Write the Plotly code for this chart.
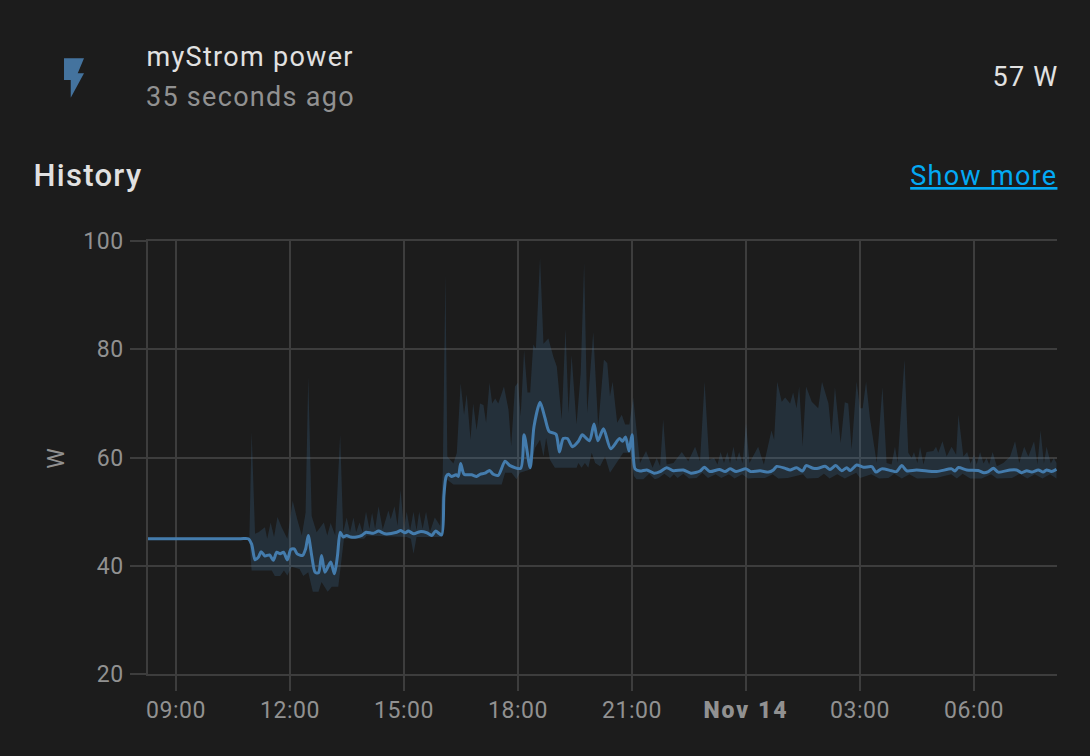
import pandas as pd
import plotly.graph_objects as go

# hours counted from midnight on Nov 13, so 24+ is Nov 14
mean_hours = [8.2, 9.5, 10.7, 10.9, 10.99, 11.08, 11.17, 11.24, 11.34, 11.46, 11.56, 11.65, 11.74, 11.83, 11.93, 12.02, 12.11, 12.19, 12.33, 12.41, 12.48, 12.57, 12.66, 12.75, 12.83, 12.92, 13.07, 13.17, 13.25, 13.32, 13.4, 13.49, 13.6, 13.75, 13.89, 14.0, 14.19, 14.33, 14.5, 14.81, 14.91, 15.03, 15.11, 15.26, 15.42, 15.6, 15.73, 15.83, 15.99, 16.05, 16.11, 16.17, 16.25, 16.37, 16.43, 16.49, 16.58, 16.78, 16.91, 17.0, 17.13, 17.25, 17.35, 17.48, 17.66, 17.79, 18.07, 18.16, 18.32, 18.42, 18.58, 18.71, 18.82, 19.0, 19.09, 19.19, 19.3, 19.43, 19.59, 19.69, 19.88, 20.0, 20.1, 20.25, 20.44, 20.67, 20.75, 20.83, 20.92, 21.0, 21.08, 21.21, 21.39, 21.58, 21.74, 21.91, 22.09, 22.35, 22.55, 22.79, 22.9, 23.05, 23.3, 23.45, 23.58, 23.74, 24.0, 24.12, 24.37, 24.59, 24.72, 24.81, 25.03, 25.16, 25.33, 25.49, 25.58, 25.77, 25.9, 26.08, 26.21, 26.36, 26.52, 26.65, 26.74, 26.91, 27.09, 27.31, 27.42, 27.57, 27.83, 27.96, 28.1, 28.23, 28.49, 29.02, 29.41, 29.5, 29.59, 29.81, 30.11, 30.26, 30.38, 30.51, 30.64, 30.95, 31.12, 31.25, 31.39, 31.52, 31.69, 31.82, 31.91, 32.04, 32.17]
mean_w = [45, 45, 45, 45, 44, 41.1, 41.6, 42.6, 41.8, 42, 41, 42.5, 42.2, 42.5, 41.1, 43, 43.1, 42.2, 41.9, 43.1, 45.6, 41.9, 38.8, 38.7, 41.9, 38.8, 40.7, 38.5, 41.9, 46.2, 45.3, 45.6, 45.3, 45.3, 45.6, 46.2, 46, 46.4, 45.9, 46.2, 46.5, 46.1, 46.4, 45.9, 46.3, 46.1, 45.6, 46.4, 45.7, 52.9, 56.5, 56.9, 56.5, 56.8, 56.5, 58.9, 56.9, 56.8, 56.5, 56.9, 57.1, 57.6, 56.9, 56.7, 59.3, 58.5, 58, 64.2, 58.1, 65.7, 70.2, 67.3, 64.8, 64.3, 61, 63.5, 63.5, 62, 63, 64.2, 63.1, 66.2, 63.1, 65.3, 61.6, 63.5, 63, 63.8, 61.2, 64.2, 57.9, 57.5, 57.7, 57.1, 57.4, 58.1, 57.55, 57.7, 57.1, 57.5, 58.2, 57.4, 57.8, 57.4, 57.9, 57.4, 57.9, 57.4, 57.55, 57.3, 57.7, 58.35, 58, 57.7, 58.1, 57.5, 58.5, 58, 58, 58.4, 57.8, 58.5, 57.55, 58.1, 57.6, 58.6, 58.2, 58.3, 57.3, 57.9, 57.55, 57.4, 58.5, 57.55, 57.7, 57.4, 57.9, 57.5, 58.15, 57.7, 57.6, 57.2, 57.4, 58, 57.3, 57.7, 57.7, 57.2, 57.55, 57.3, 57.7, 57.3, 57.7, 57.4, 57.8]

max_hours = [10.93, 10.99, 11.08, 11.17, 11.34, 11.4, 11.49, 11.58, 11.67, 11.78, 11.93, 12.07, 12.19, 12.31, 12.41, 12.48, 12.57, 12.7, 12.89, 12.98, 13.07, 13.19, 13.32, 13.4, 13.49, 13.58, 13.67, 13.74, 13.83, 13.91, 14.0, 14.09, 14.16, 14.24, 14.33, 14.44, 14.59, 14.65, 14.75, 14.83, 14.91, 15.0, 15.07, 15.16, 15.25, 15.33, 15.4, 15.49, 15.58, 15.68, 15.81, 15.95, 16.02, 16.09, 16.14, 16.3, 16.39, 16.49, 16.58, 16.65, 16.75, 16.82, 16.91, 17.0, 17.09, 17.16, 17.25, 17.32, 17.4, 17.48, 17.63, 17.75, 17.82, 17.92, 18.0, 18.07, 18.16, 18.25, 18.32, 18.4, 18.47, 18.58, 18.67, 18.8, 18.93, 19.02, 19.15, 19.25, 19.33, 19.41, 19.54, 19.65, 19.74, 19.82, 19.98, 20.11, 20.26, 20.35, 20.42, 20.49, 20.61, 20.73, 20.82, 20.93, 21.03, 21.12, 21.21, 21.37, 21.54, 21.65, 21.74, 21.82, 21.91, 22.09, 22.31, 22.48, 22.66, 22.79, 22.91, 23.03, 23.16, 23.25, 23.33, 23.42, 23.51, 23.58, 23.67, 23.74, 23.82, 23.91, 24.0, 24.09, 24.32, 24.47, 24.67, 24.74, 24.82, 24.94, 25.03, 25.16, 25.24, 25.33, 25.4, 25.49, 25.58, 25.73, 25.9, 26.0, 26.17, 26.25, 26.34, 26.49, 26.6, 26.69, 26.78, 26.91, 27.0, 27.07, 27.16, 27.26, 27.35, 27.44, 27.59, 27.7, 27.83, 27.92, 27.99, 28.17, 28.27, 28.36, 28.42, 28.51, 28.58, 28.67, 28.75, 28.93, 29.0, 29.06, 29.17, 29.28, 29.41, 29.53, 29.59, 29.72, 29.82, 29.91, 30.0, 30.07, 30.16, 30.25, 30.33, 30.4, 30.49, 30.6, 30.77, 30.95, 31.08, 31.19, 31.32, 31.43, 31.58, 31.67, 31.75, 31.84, 31.91, 32.02, 32.1, 32.17]
max_w = [45, 64.8, 45.9, 46.2, 47.1, 45, 48, 45.3, 49, 47.1, 45, 52, 48.6, 45.6, 49.8, 74.9, 49.2, 46.2, 48, 45.6, 47.9, 45.6, 64.2, 46.2, 48.9, 46.2, 48.9, 46.2, 48, 46.2, 50, 46.8, 49.8, 46.8, 51, 46.7, 50.2, 48.6, 51, 47.4, 54, 46.8, 50, 46.5, 50, 46.5, 50, 46.8, 50, 46.2, 48.9, 47.4, 57.2, 93.9, 60.2, 58.9, 60.9, 73.7, 67.9, 71.7, 63.3, 70, 65.1, 70, 69.7, 66.4, 73.8, 70, 70.9, 70, 73.1, 68.8, 62.1, 73.1, 73.8, 67.6, 79.8, 72, 72, 80.9, 80.1, 96.9, 81, 82, 78.6, 76.8, 67, 83.8, 68.2, 78.9, 66.1, 75.5, 96, 68.2, 83.2, 65.7, 78.1, 77.4, 71.3, 74, 66.4, 67.9, 66.1, 66.1, 71.1, 64.5, 59, 61.2, 58.1, 59.9, 58.4, 67, 58.7, 59, 61, 59.3, 62, 59.3, 74, 59.6, 59.9, 58.7, 61, 59, 61, 58.9, 62, 59.3, 61, 58.9, 66.4, 59, 62, 58.7, 65, 63.3, 74, 70.3, 71.1, 70, 72, 69.1, 73.1, 62.1, 73.1, 70.3, 69.1, 74, 70, 64.2, 73, 62.7, 70.2, 70, 61.5, 74, 69.1, 69.1, 74, 67.3, 63.3, 59, 73, 59, 58.7, 62, 59, 78.1, 60.9, 59.9, 61, 59, 62, 58.7, 61, 61.2, 62, 60.9, 63, 60.2, 62, 60.5, 67.9, 60.2, 61, 58.9, 60.5, 58.7, 61, 58.9, 59.9, 58.7, 61, 58.4, 59, 60.2, 63, 59, 62, 60.2, 63, 58.7, 65, 58.9, 62, 58.9, 59.9, 59]

min_hours = [10.93, 10.99, 11.52, 11.6, 11.74, 11.84, 11.93, 12.04, 12.25, 12.35, 12.48, 12.6, 12.75, 12.83, 12.99, 13.1, 13.27, 13.36, 13.42, 13.95, 14.02, 15.07, 15.18, 15.25, 15.33, 15.99, 16.03, 16.12, 16.3, 17.57, 17.66, 17.83, 17.96, 18.05, 18.32, 18.45, 18.58, 18.67, 18.74, 18.84, 18.97, 19.19, 19.54, 19.59, 19.67, 19.76, 19.85, 19.94, 20.03, 20.16, 20.29, 20.42, 20.6, 20.77, 20.95, 21.05, 21.12, 21.3, 21.45, 21.6, 21.7, 21.85, 22.0, 22.1, 22.2, 22.35, 22.5, 22.7, 22.85, 23.0, 23.2, 23.35, 23.55, 23.7, 23.9, 24.05, 24.25, 24.5, 24.7, 24.85, 25.1, 25.5, 25.6, 25.9, 26.05, 26.2, 26.4, 26.6, 26.9, 27.0, 27.3, 27.5, 27.75, 27.9, 28.1, 28.3, 28.5, 29.0, 29.4, 29.55, 29.7, 29.9, 30.2, 30.45, 30.6, 31.0, 31.2, 31.4, 31.6, 31.8, 32.0, 32.17]
min_w = [45, 39.1, 39.1, 38.1, 38.1, 39.1, 38.2, 39.8, 39.4, 38.1, 38.8, 35.2, 35.2, 37, 35.2, 36.1, 36.1, 41.9, 45, 45, 45.6, 45.3, 45, 42.2, 45.3, 45.3, 52.6, 56, 55, 55, 57.2, 57.2, 56, 57.2, 57.8, 61.8, 63.3, 60.2, 63.6, 59.6, 58.1, 58.1, 58.1, 59, 58.1, 59, 58.1, 60.9, 59, 58.4, 60.2, 57.2, 59, 60.9, 60.9, 56.6, 56, 56, 57, 56, 56.2, 57, 56.2, 56.9, 56.2, 57, 56.1, 56.2, 57.2, 56.2, 56.9, 56.2, 56.9, 56.1, 56.9, 56.1, 56.2, 56.2, 56.9, 56.1, 56.2, 56.9, 56.1, 56.2, 57, 56.1, 56.9, 56.1, 57.2, 56.2, 56.9, 56.1, 56.2, 57, 56.1, 56.9, 56.1, 56.2, 56.9, 56.1, 57, 56.1, 56.1, 56.9, 56.1, 56.2, 57, 56.1, 56.9, 56.1, 56.9, 56.1]

tick_hours = [9, 12, 15, 18, 21, 24, 27, 30]
tick_labels = ['09:00', '12:00', '15:00', '18:00', '21:00', '<b>Nov 14</b>', '03:00', '06:00']
y_ticks = [20, 40, 60, 80, 100]

W, H = 1090, 756
LEFT, RIGHT, TOP, BOTTOM = 148, 1057, 241, 674
BG = '#1c1c1c'
GRID = '#3d3d3d'
BLUE = '#447cad'
GREY = '#919191'


def heure(h):
    return pd.Timestamp('2021-11-13') + pd.to_timedelta(h, unit='h')


def px(x):
    return (x - LEFT) / (RIGHT - LEFT)


def py(y):
    return (BOTTOM - y) / (BOTTOM - TOP)


def texte(x, y, txt, size, color, weight=400, angle=0):
    return dict(x=px(x), y=py(y), xref='paper', yref='paper', text=txt, showarrow=False,
                xanchor='center', yanchor='middle', textangle=angle,
                font=dict(family='Roboto', size=size, color=color, weight=weight))


fig = go.Figure()
fig.add_trace(go.Scatter(x=heure(max_hours), y=max_w, mode='lines', line=dict(width=0, color=BLUE),
                         hoverinfo='skip'))
fig.add_trace(go.Scatter(x=heure(min_hours), y=min_w, mode='lines', line=dict(width=0, color=BLUE),
                         fill='tonexty', fillcolor='rgba(69,128,179,0.2)', hoverinfo='skip'))
fig.add_trace(go.Scatter(x=heure(mean_hours), y=mean_w, mode='lines',
                         line=dict(width=3, color=BLUE, shape='spline', smoothing=0.7)))

bolt = [(64, 58.3), (84, 58.3), (77.7, 73.3), (84, 73.3), (70.7, 97.7), (70.7, 80), (64, 80)]
bolt_path = 'M ' + ' L '.join(f'{px(a):.4f} {py(b):.4f}' for a, b in bolt) + ' Z'

tick_font = dict(family='Roboto', size=23, color=GREY)
fig.update_layout(
    width=W, height=H,
    margin=dict(l=LEFT, r=W - RIGHT, t=TOP, b=H - BOTTOM, pad=0),
    paper_bgcolor=BG, plot_bgcolor=BG,
    showlegend=False,
    font=dict(family='Roboto', size=23, color=GREY),
    xaxis=dict(range=[heure(8.263), heure(32.184)], tickmode='array', tickvals=heure(tick_hours),
               ticktext=tick_labels, showgrid=True, gridcolor=GRID, gridwidth=1.5, ticks='outside',
               ticklen=15, tickcolor=GRID, tickwidth=1.5, showline=True, mirror=True,
               linecolor=GRID, linewidth=1.5, tickfont=tick_font, zeroline=False),
    yaxis=dict(range=[20, 100], tickmode='array', tickvals=y_ticks, showgrid=True, gridcolor=GRID,
               gridwidth=1.5, ticks='outside', ticklen=16, tickcolor=GRID, tickwidth=1.5, showline=True,
               linecolor=GRID, linewidth=1.5, tickfont=tick_font, ticklabelstandoff=2,
               zeroline=False),
    shapes=[dict(type='path', xref='paper', yref='paper', path=bolt_path, fillcolor='#44739e', line_width=0)],
    annotations=[
        texte(249.5, 57, 'myStrom power', 27, '#e1e1e1'),
        texte(250.5, 97, '35 seconds ago', 27, GREY),
        texte(1025, 77, '57 W', 27, '#e1e1e1'),
        texte(88, 175.5, 'History', 31, '#e1e1e1', weight=500),
        texte(983.5, 176, '<u>Show more</u>', 27, '#03a9f4'),
        texte(56, 458, 'W', 23, GREY, angle=-90),
    ],
)

# plotly has no letter-spacing option, the card text is spaced out in the original
css = (".annotation text{letter-spacing:1.3px} .xtick text,.ytick text{letter-spacing:.5px} "
       ".xtick text tspan{font-weight:900 !important;letter-spacing:2px}")
fig.write_html('out.html', config={'displayModeBar': False},
               post_script="document.body.style.margin='0';document.body.style.background='#1c1c1c';"
                           "var s=document.createElement('style');s.textContent='" + css + "';"
                           "document.head.appendChild(s);")
